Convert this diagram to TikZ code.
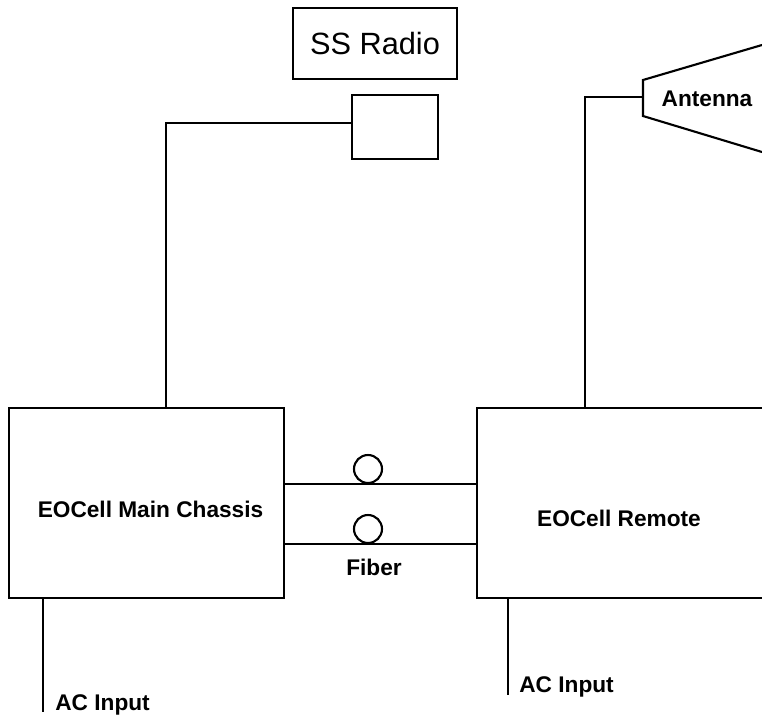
\documentclass[tikz,border=0pt]{standalone}
\usepackage{fontspec}
\setmainfont{Liberation Sans}
\usetikzlibrary{positioning}

\begin{document}
\begin{tikzpicture}[
  x=0.02cm, y=-0.02cm,
  unitbox/.style={
    rectangle, draw=black, line width=1.2pt,
    inner sep=0pt
  },
  loopmark/.style={circle, draw=black, line width=1.2pt, minimum size=0.56cm, inner sep=0pt},
  lbl/.style={font=\fontsize{12.9}{15}\selectfont\bfseries, inner sep=0pt, anchor=base west},
  wire/.style={line width=1.2pt, draw=black}
]
\useasboundingbox (0,0) rectangle (762,721);
\clip (0,0) rectangle (762,721);

\node[unitbox, minimum width=3.28cm, minimum height=1.42cm,
      font=\fontsize{17.5}{20}\selectfont] (radio) at (375,43.5) {SS Radio};
\node[unitbox, minimum width=1.72cm, minimum height=1.28cm] (rbox) at (395,127) {};

\node[unitbox, minimum width=5.5cm, minimum height=3.8cm] (main) at (146.5,503) {};
\node[unitbox, minimum width=6.6cm, minimum height=3.8cm] (remote) at (642,503) {};
\node[lbl, anchor=center] (mainlbl) at (150.5,509.5) {EOCell Main Chassis};
\node[lbl, anchor=center] (remlbl) at (619,518) {EOCell Remote};

% radio feed
\coordinate (rcorner) at (166,123);
\draw[wire] (rbox.west |- rcorner) -- (rcorner) -- (rcorner |- main.north);

% fiber
\coordinate (f1) at (0,484);
\coordinate (f2) at (0,544);
\draw[wire] (main.east |- f1) -- (remote.west |- f1);
\draw[wire] (main.east |- f2) -- (remote.west |- f2);
\node[loopmark] (loop1) at (368,469) {};
\node[loopmark] (loop2) at (368,529) {};
\node[lbl, anchor=center] (fiberlbl) at (374,567.5) {Fiber};

% antenna
\coordinate (feed) at (643,97);
\coordinate (acorner) at (585,97);
\draw[wire] (feed) -- (acorner) -- (acorner |- remote.north);
\draw[wire] (762,45) -- (643,80) -- (643,116) -- (762,152);
\node[lbl, anchor=center] (antlbl) at (707,99) {Antenna};

% power
\coordinate (ac1) at (43,712);
\coordinate (ac2) at (508,695);
\draw[wire] (ac1 |- main.south) -- (ac1);
\draw[wire] (ac2 |- remote.south) -- (ac2);
\node[lbl] (ac1lbl) at (55,710) {AC Input};
\node[lbl] (ac2lbl) at (519,692) {AC Input};
\end{tikzpicture}
\end{document}
